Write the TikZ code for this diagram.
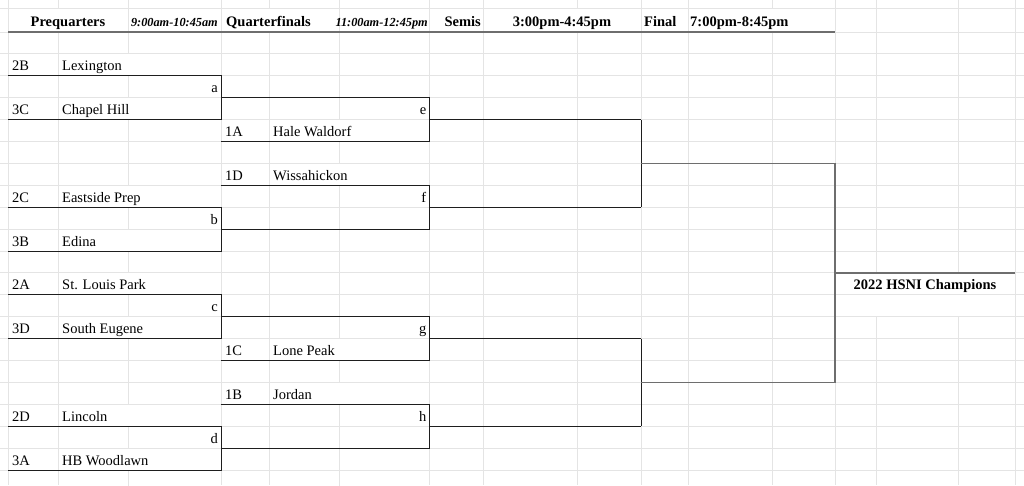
\documentclass[tikz,border=0pt]{standalone}
\usepackage{fontspec}
\setmainfont{Liberation Serif}
\newcommand\rowy[1]{\fpeval{32+21.9*(#1)}}
\definecolor{gridc}{HTML}{E4E4E4}
\definecolor{inkc}{HTML}{1E1E1E}
\definecolor{grayc}{HTML}{6E6E6E}
\begin{document}
\begin{tikzpicture}[x=1pt,y=-1pt,
  grid/.style={draw=gridc,line width=1pt},
  brk/.style={draw=inkc,line width=1pt},
  gbrk/.style={draw=grayc,line width=1.5pt},
  txt/.style={anchor=base west,inner sep=0pt,font=\fontsize{14.5}{17}\selectfont},
  rtxt/.style={anchor=base east,inner sep=0pt,font=\fontsize{14.5}{17}\selectfont},
  hd/.style={inner sep=0pt,font=\fontsize{14.5}{17}\selectfont\bfseries},
  hdi/.style={inner sep=0pt,font=\fontsize{12.3}{15}\selectfont\bfseries\itshape}]
\useasboundingbox (0,0) rectangle (1024,485);
\fill[white] (0,0) rectangle (1024,485);
% horizontal gridlines
\draw[grid] (0,8) -- (1024,8);
\draw[grid] (0,32) -- (1024,32);
\foreach \k in {1,...,20} \draw[grid] (0,\rowy{\k}) -- (1024,\rowy{\k});
% vertical gridlines, full height
\foreach \x in {8,221,429,483,641,688,835,1015} \draw[grid] (\x,0) -- (\x,485);
% hidden in header row
\foreach \x in {58,269,577,772} {
  \draw[grid] (\x,0) -- (\x,8);
  \draw[grid] (\x,32) -- (\x,485);
}
% column 128: hidden in prequarter name rows
\draw[grid] (128,0) -- (128,32);
\foreach \r in {1,3,5,6,7,9,11,13,15,16,17,19,21}
  \draw[grid] (128,\rowy{\r-1}) -- (128,\rowy{\r});
% column 339: hidden in quarterfinal name rows
\draw[grid] (339,0) -- (339,32);
\foreach \r in {1,2,3,4,6,8,9,10,11,12,13,14,16,18,19,20,21}
  \draw[grid] (339,\rowy{\r-1}) -- (339,\rowy{\r});
% columns 876, 958: hidden in champion cell rows
\foreach \x in {876,958} {
  \draw[grid] (\x,0) -- (\x,\rowy{11});
  \draw[grid] (\x,\rowy{13}) -- (\x,485);
}
% header
\draw[draw=grayc,line width=1.3pt] (8,32) -- (835,32);
\node[hd,anchor=base] (hpq) at (68,26) {Prequarters};
\node[hdi,anchor=base east] (hpqt) at (218,26) {9:00am-10:45am};
\node[hd,anchor=base west] (hqf) at (226,26) {Quarterfinals};
\node[hdi,anchor=base east] (hqft) at (428,26) {11:00am-12:45pm};
\node[hd,anchor=base east] (hsf) at (481,26) {Semis};
\node[hd,anchor=base] (hsft) at (562,26) {3:00pm-4:45pm};
\node[hd,anchor=base west] (hfn) at (644,26) {Final};
\node[hd,anchor=base west] (hfnt) at (690,26) {7:00pm-8:45pm};
% prequarter teams
\node[txt] (s2B) at (12,\rowy{2}-5) {2B};
\node[txt] (n2B) at (62,\rowy{2}-5) {Lexington};
\node[txt] (s3C) at (12,\rowy{4}-5) {3C};
\node[txt] (n3C) at (62,\rowy{4}-5) {Chapel Hill};
\node[txt] (s2C) at (12,\rowy{8}-5) {2C};
\node[txt] (n2C) at (62,\rowy{8}-5) {Eastside Prep};
\node[txt] (s3B) at (12,\rowy{10}-5) {3B};
\node[txt] (n3B) at (62,\rowy{10}-5) {Edina};
\node[txt] (s2A) at (12,\rowy{12}-5) {2A};
\node[txt] (n2A) at (62,\rowy{12}-5) {St. Louis Park};
\node[txt] (s3D) at (12,\rowy{14}-5) {3D};
\node[txt] (n3D) at (62,\rowy{14}-5) {South Eugene};
\node[txt] (s2D) at (12,\rowy{18}-5) {2D};
\node[txt] (n2D) at (62,\rowy{18}-5) {Lincoln};
\node[txt] (s3A) at (12,\rowy{20}-5) {3A};
\node[txt] (n3A) at (62,\rowy{20}-5) {HB Woodlawn};
% quarterfinal seeds
\node[txt] (s1A) at (225,\rowy{5}-5) {1A};
\node[txt] (n1A) at (273,\rowy{5}-5) {Hale Waldorf};
\node[txt] (s1D) at (225,\rowy{7}-5) {1D};
\node[txt] (n1D) at (273,\rowy{7}-5) {Wissahickon};
\node[txt] (s1C) at (225,\rowy{15}-5) {1C};
\node[txt] (n1C) at (273,\rowy{15}-5) {Lone Peak};
\node[txt] (s1B) at (225,\rowy{17}-5) {1B};
\node[txt] (n1B) at (273,\rowy{17}-5) {Jordan};
% match labels
\node[rtxt] (la) at (218,\rowy{3}-5) {a};
\node[rtxt] (lb) at (218,\rowy{9}-5) {b};
\node[rtxt] (lc) at (218,\rowy{13}-5) {c};
\node[rtxt] (ld) at (218,\rowy{19}-5) {d};
\node[rtxt] (le) at (426.5,\rowy{4}-5) {e};
\node[rtxt] (lf) at (426.5,\rowy{8}-5) {f};
\node[rtxt] (lg) at (426.5,\rowy{14}-5) {g};
\node[rtxt] (lh) at (426.5,\rowy{18}-5) {h};
% champion
\node[hd,anchor=base] (champ) at (925,\rowy{12}-5) {2022 HSNI Champions};
% prequarter brackets
\foreach \t/\b in {2/4,8/10,12/14,18/20}
  \draw[brk] (8,\rowy{\t}) -- (221,\rowy{\t}) -- (221,\rowy{\b}) -- (8,\rowy{\b});
% quarterfinal brackets and outputs
\foreach \t/\b/\m in {3/5/4,7/9/8,13/15/14,17/19/18} {
  \draw[brk] (221,\rowy{\t}) -- (429,\rowy{\t}) -- (429,\rowy{\b}) -- (221,\rowy{\b});
  \draw[brk] (429,\rowy{\m}) -- (641,\rowy{\m});
}
% semifinal verticals
\draw[brk] (641,\rowy{4}) -- (641,\rowy{8});
\draw[brk] (641,\rowy{14}) -- (641,\rowy{18});
% final
\draw[gbrk] (641,\rowy{6}) -- (835,\rowy{6}) -- (835,\rowy{16}) -- (641,\rowy{16});
\draw[gbrk] (835,\rowy{11}) -- (1015,\rowy{11});
\end{tikzpicture}
\end{document}
